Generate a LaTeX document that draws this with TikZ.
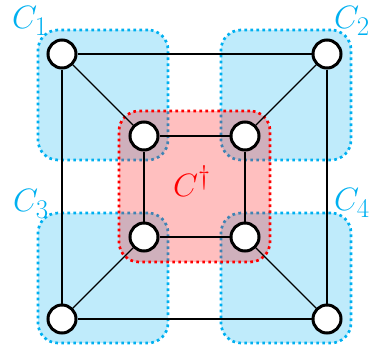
\documentclass[tikz,border=0pt]{standalone}
\usepackage{graphicx}
\usetikzlibrary{fit, positioning}
\definecolor{clusterblue}{RGB}{0,176,240}
\definecolor{clusterred}{RGB}{255,0,0}
\newcommand{\clname}[1]{\scalebox{1.3}{\Huge $#1$}}

\begin{document}
\begin{tikzpicture}[
		x=1pt, y=-1pt,
		vertex/.style={circle, draw=black, line width=3pt, fill=white, minimum size=28pt, inner sep=0pt},
		edge/.style={line width=1.3pt, black},
		cluster/.style={draw=clusterblue, fill=clusterblue, fill opacity=0.25, line width=2.7pt, dash pattern=on 2.7pt off 3.3pt, rounded corners=20pt, inner sep=24pt},
		core/.style={cluster, draw=clusterred, fill=clusterred, inner sep=25pt},
		cname/.style={inner sep=0pt}
		]
		\useasboundingbox (0,0) rectangle (377,354);
		
		% 1. Vertex positions (outer square, inner square)
		\coordinate (o1) at (62,54);
		\coordinate (o2) at (327,54);
		\coordinate (o3) at (62,319);
		\coordinate (o4) at (327,319);
		\coordinate (i1) at (144,136);
		\coordinate (i2) at (245,136);
		\coordinate (i3) at (144,237);
		\coordinate (i4) at (245,237);
		
		% 2. Clusters C_1 ... C_4 and the core C^dagger
		\node[cluster, fit=(o1)(i1)] (c1) {};
		\node[cluster, fit=(o2)(i2)] (c2) {};
		\node[cluster, fit=(o3)(i3)] (c3) {};
		\node[cluster, fit=(o4)(i4)] (c4) {};
		\node[core, fit=(i1)(i4)] (core) {};
		
		\node[cname, clusterblue] (l1) at (30,21) {\clname{C_1}};
		\node[cname, clusterblue] (l2) at (352,21) {\clname{C_2}};
		\node[cname, clusterblue] (l3) at (31,204) {\clname{C_3}};
		\node[cname, clusterblue] (l4) at (352,203) {\clname{C_4}};
		\node[cname, clusterred] (l0) at (192,181) {\clname{C^\dagger}};
		
		% 3. Vertices
		\foreach \v in {o1,o2,o3,o4,i1,i2,i3,i4}
		\node[vertex] (v\v) at (\v) {};
		
		% 4. Edges
		\draw[edge] (vo1) -- (vo2);
		\draw[edge] (vo2) -- (vo4);
		\draw[edge] (vo4) -- (vo3);
		\draw[edge] (vo3) -- (vo1);
		\draw[edge] (vi1) -- (vi2);
		\draw[edge] (vi2) -- (vi4);
		\draw[edge] (vi4) -- (vi3);
		\draw[edge] (vi3) -- (vi1);
		\foreach \k in {1,...,4}
		\draw[edge] (vo\k) -- (vi\k);
		
	\end{tikzpicture}
\end{document}
